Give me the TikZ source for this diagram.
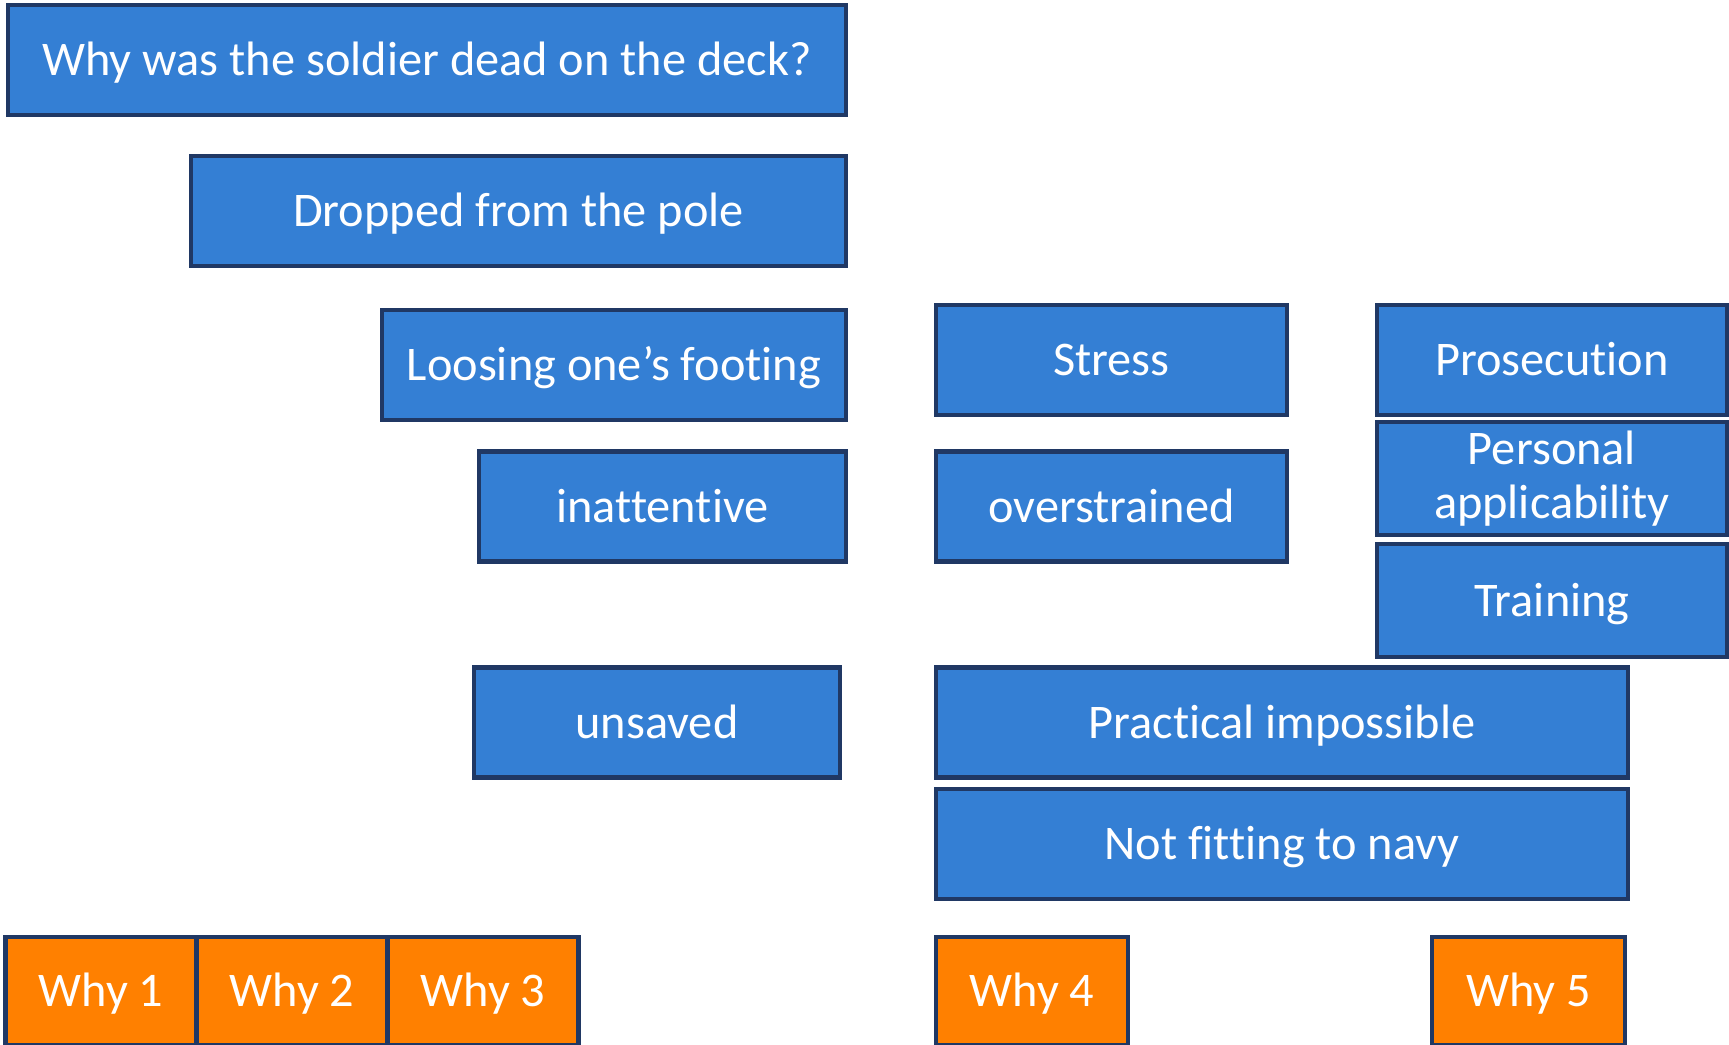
\documentclass[tikz,border=0pt]{standalone}
\usepackage{fontspec}
\setmainfont[Ligatures=NoCommon]{Carlito}
\definecolor{boxblue}{RGB}{52,127,212}
\definecolor{boxline}{RGB}{32,56,100}
\definecolor{whyorange}{RGB}{255,128,0}
\begin{document}
\begin{tikzpicture}
\tikzstyle{every node} = [rectangle, draw=boxline, line width=2.8pt, text=white, align=center, inner sep=0cm, text height=20pt, text depth=2pt, font=\fontsize{27.5}{31}\selectfont]
\tikzstyle{cause} = [fill=boxblue, minimum height=2.2cm]
\tikzstyle{why} = [fill=whyorange, minimum height=2.16cm]
\useasboundingbox (0,0) rectangle (34.58,-20.9);

% why 1 to 3
\node[cause, minimum width=16.76cm] (question) at (8.54,-1.2) {Why was the soldier dead on the deck?};
\node[cause, minimum width=13.1cm] (dropped) at (10.37,-4.22) {Dropped from the pole};
\node[cause, minimum width=9.28cm] (footing) at (12.28,-7.3) {Loosing one’s footing};
\node[cause, minimum width=7.34cm] (inattentive) at (13.25,-10.13) {inattentive};
\node[cause, minimum width=7.32cm] (unsaved) at (13.14,-14.45) {unsaved};

% why 4
\node[cause, minimum width=7.02cm] (stress) at (22.23,-7.2) {Stress};
\node[cause, minimum width=7.02cm] (overstrained) at (22.23,-10.13) {overstrained};
\node[cause, minimum width=13.84cm] (practical) at (25.64,-14.45) {Practical impossible};
\node[cause, minimum width=13.84cm] (navy) at (25.64,-16.88) {Not fitting to navy};

% why 5
\node[cause, minimum width=7.0cm] (prosecution) at (31.04,-7.2) {Prosecution};
\node[cause, minimum width=7.0cm, minimum height=2.26cm, text height=, text depth=] (personal) at (31.04,-9.57) {Personal\\applicability};
\node[cause, minimum width=7.0cm, minimum height=2.26cm] (training) at (31.04,-12.01) {Training};

% labels
\node[why, minimum width=3.82cm] (why1) at (2.02,-19.82) {Why 1};
\node[why, minimum width=3.82cm] (why2) at (5.84,-19.82) {Why 2};
\node[why, minimum width=3.82cm] (why3) at (9.66,-19.82) {Why 3};
\node[why, minimum width=3.84cm] (why4) at (20.64,-19.82) {Why 4};
\node[why, minimum width=3.86cm] (why5) at (30.57,-19.82) {Why 5};
\end{tikzpicture}
\end{document}
